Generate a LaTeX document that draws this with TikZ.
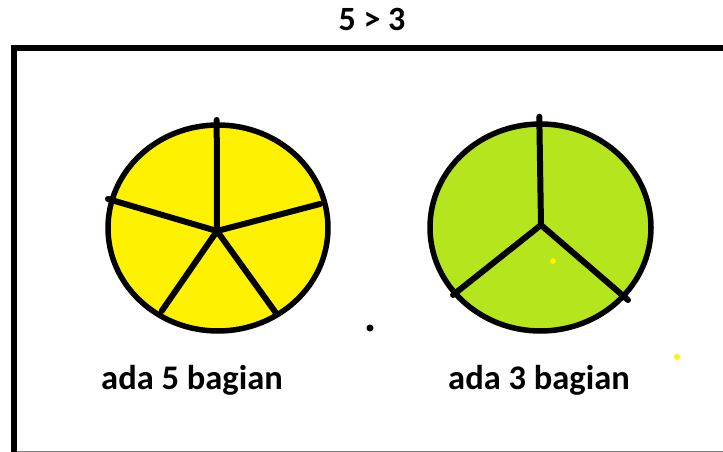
\documentclass[tikz,border=0pt]{standalone}
\usepackage{fontspec}
\setmainfont{Carlito}
\usepackage{tikz}
\usetikzlibrary{positioning}
\definecolor{pieyellow}{RGB}{255,242,0}
\definecolor{piegreen}{RGB}{181,230,29}

\begin{document}
\begin{tikzpicture}[x=1pt,y=-1pt,
  rim/.style={draw=black,line width=5.5pt},
  spoke/.style={line width=6pt,line cap=round},
  caption/.style={font=\bfseries\fontsize{34.5}{40}\selectfont,anchor=base,inner sep=0pt}]
\useasboundingbox (0,0) rectangle (723,452);
\clip (0,0) rectangle (723,452);
\fill[white] (0,0) rectangle (723,452);
\node[caption,font=\bfseries\fontsize{34}{40}\selectfont] (title) at (372,30.5) {5 > 3};
\draw[line width=6pt] (14,470) -- (14,48) -- (740,48);
\draw[gray,line width=1pt] (17,451.5) -- (723,451.5);
\coordinate (hubA) at (217,231);
\coordinate (hubB) at (541,225);
\filldraw[rim,fill=pieyellow] (218,228) ellipse [x radius=110,y radius=103];
\filldraw[rim,fill=piegreen] (540.5,227.5) ellipse [x radius=110.5,y radius=103.5];
\foreach \p in {(216.7,120),(108,199),(320,204),(161.7,311),(276,313)}
  \draw[spoke] (hubA) -- \p;
\foreach \p in {(539.3,116.7),(453,295),(628,300)}
  \draw[spoke] (hubB) -- \p;
\fill[pieyellow] (553,261) circle (3);
\fill[pieyellow] (677,357) circle (3);
\fill[black] (370,328) circle (3.5);
\node[caption] (lbl5) at (192,389.5) {ada 5 bagian};
\node[caption] (lbl3) at (539,389.5) {ada 3 bagian};
\end{tikzpicture}
\end{document}
